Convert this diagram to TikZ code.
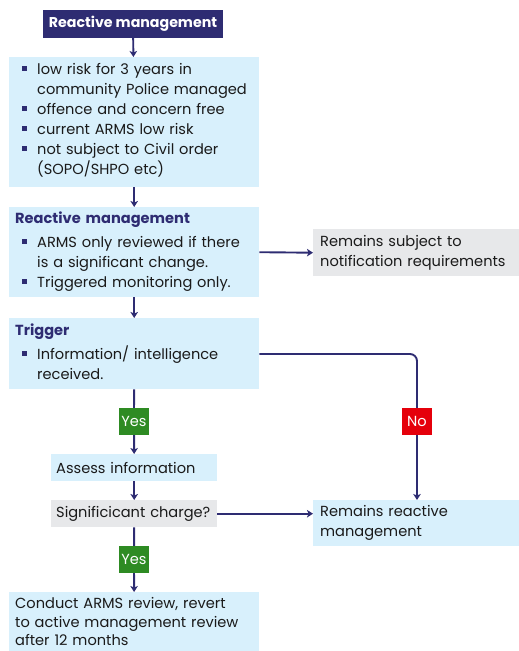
\documentclass[tikz,border=0pt]{standalone}
\usepackage{fontspec}
\setmainfont{Poppins}
\usetikzlibrary{arrows.meta}
\definecolor{navy}{HTML}{2E2C72}
\definecolor{lblue}{HTML}{D8F0FC}
\definecolor{lgray}{HTML}{E7E8EA}
\definecolor{ygreen}{HTML}{2E8B23}
\definecolor{nred}{HTML}{E5000B}
\definecolor{txt}{HTML}{1A1A1A}
\newcommand\brk{\hfil\break}
\newcommand\bitem[1]{\par\hangindent=22pt\hangafter=1\noindent\strut\hspace*{7pt}\makebox[15pt][l]{\textcolor{navy}{\rule[0.25em]{4.5pt}{4.5pt}}}#1\par}
\newcommand\hd[1]{\par\noindent\strut{\color{navy}\fontseries{sb}\selectfont #1}\par\vspace{4.3pt}}
\newcommand\tb[3]{\parbox[c][#1][t]{\linewidth}{\vspace*{#2}#3}}
\begin{document}
\begin{tikzpicture}[x=1pt,y=-1pt,
  every node/.style={font=\fontsize{14.6}{20}\selectfont, text=txt},
  box/.style={anchor=north west, fill=lblue, inner xsep=6pt, inner ysep=0pt, align=left},
  gbox/.style={box, fill=lgray},
  lab/.style={fill=#1, text=white, minimum width=30pt, minimum height=27pt, inner sep=0pt},
  conn/.style={draw=navy, line width=1.9pt},
  arr/.style={conn, -{Stealth[length=6pt,width=7.5pt,inset=1.5pt]}}]
\useasboundingbox (0,0) rectangle (519,651);
\node[fill=navy, text=white, font=\fontsize{14.2}{16}\fontseries{sb}\selectfont, minimum width=180pt, minimum height=28pt, inner sep=0pt] (title) at (133,24) {Reactive management};
\node[box, minimum width=250pt, minimum height=130pt, text width=238pt] (b1) at (9,57) {\tb{130pt}{3pt}{%
\bitem{low risk for 3 years in\brk community Police managed}
\bitem{offence and concern free}
\bitem{current ARMS low risk}
\bitem{not subject to Civil order\brk (SOPO/SHPO etc)}}};
\node[box, minimum width=250pt, minimum height=90pt, text width=238pt] (b2) at (9,207) {\tb{90pt}{2pt}{%
\hd{Reactive management}
\bitem{ARMS only reviewed if there\brk is a significant change.}
\bitem{Triggered monitoring only.}}};
\node[gbox, minimum width=206pt, minimum height=47pt, text width=192pt, inner xsep=7pt] (g1) at (313,229) {Remains subject to\\notification requirements};
\node[box, minimum width=250pt, minimum height=71pt, text width=238pt] (b3) at (9,318) {\tb{71pt}{3pt}{%
\hd{Trigger}
\bitem{Information/ intelligence\brk received.}}};
\node[lab=ygreen] (y1) at (134,421.5) {Yes};
\node[lab=nred] (n1) at (417,421.5) {No};
\node[box, minimum width=166pt, minimum height=27pt, text width=156pt, inner xsep=5pt] (as) at (51,454) {Assess information};
\node[gbox, minimum width=166pt, minimum height=27pt, text width=156pt, inner xsep=5pt] (sig) at (51,500) {\mbox{Significicant charge?}};
\node[box, minimum width=206pt, minimum height=46pt, text width=192pt, inner xsep=7pt] (rr) at (313,500) {Remains reactive\\management};
\node[lab=ygreen] (y2) at (134,559.5) {Yes};
\node[box, minimum width=250pt, minimum height=59pt, text width=238pt, font=\fontsize{14.6}{18.8}\selectfont] (cd) at (9,592) {Conduct ARMS review, revert\\to active management review\\after 12 months};
\coordinate (c1) at (417,354);
\draw[arr] (title) -- (b1);
\draw[arr] (b1) -- (b2);
\draw[arr] (b2) -- (b3);
\draw[arr] (b2.east) -- (g1.west);
\draw[conn] (b3) -- (y1);
\draw[arr] (y1) -- (as);
\draw[arr] (as) -- (sig);
\draw[conn] (sig) -- (y2);
\draw[arr] (y2) -- (cd);
\draw[arr] (sig.east) -- (sig.east -| rr.west);
\draw[conn, rounded corners=7pt] (b3.east |- c1) -- (c1) -- (n1);
\draw[arr] (n1) -- (rr.north -| n1);
\end{tikzpicture}
\end{document}
